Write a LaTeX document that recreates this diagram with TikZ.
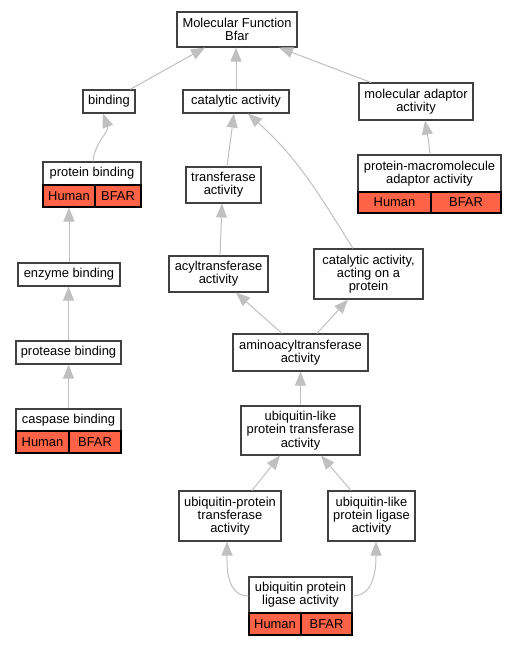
\documentclass[tikz,border=0pt]{standalone}
\usepackage{fontspec}
\setmainfont{Liberation Sans}
\usepackage{xcolor}
\usepackage{tikz}
\usetikzlibrary{arrows.meta}

\definecolor{tagred}{RGB}{255,99,71}
\definecolor{edgegray}{RGB}{192,192,192}
\newcommand{\gofont}{\fontsize{12.9}{13.3}\selectfont}

\tikzset{
  term/.style={draw=black!75, line width=1.1pt, fill=white, align=center, inner sep=0pt, font=\gofont},
  tag/.style={draw=black, line width=1.1pt, fill=tagred, inner sep=0pt, font=\gofont},
  isa/.style={draw=edgegray, line width=1pt, ->}
}

\begin{document}
\begin{tikzpicture}[x=1pt, y=-1pt, >={Triangle[length=14pt,width=11pt]}]
\useasboundingbox (0,0) rectangle (516,645);
%==================== Radice ==================
\node[term, minimum width=120, minimum height=35] (mf) at (237,29.5) {Molecular Function\\Bfar};
%==================== Livello 1 ==================
\node[term, minimum width=52, minimum height=23] (bind) at (109,101.5) {binding};
\node[term, minimum width=106, minimum height=23] (cat) at (236,101.5) {catalytic activity};
\node[term, minimum width=114, minimum height=37] (mad) at (416,101.5) {molecular adaptor\\activity};
%==================== Livello 2 ==================
\node[term, minimum width=98, minimum height=23] (pbind) at (92,173.5) {protein binding};
\node[tag, minimum width=52, minimum height=22] (pbindh) at (69,196) {Human};
\node[tag, minimum width=46, minimum height=22] (pbindg) at (118,196) {BFAR};
\node[term, minimum width=75, minimum height=36] (trans) at (223.5,185) {transferase\\activity};
\node[term, minimum width=143, minimum height=37] (pmaa) at (429.5,173.5) {protein-macromolecule\\adaptor activity};
\node[tag, minimum width=73, minimum height=21] (pmaah) at (394.5,202.5) {Human};
\node[tag, minimum width=70, minimum height=21] (pmaag) at (466,202.5) {BFAR};
%==================== Livello 3 ==================
\node[term, minimum width=102, minimum height=23] (enz) at (69,274.5) {enzyme binding};
\node[term, minimum width=99, minimum height=36] (acyl) at (218.5,274) {acyltransferase\\activity};
\node[term, minimum width=109, minimum height=50] (capr) at (368.5,274) {catalytic activity,\\acting on a\\protein};
%==================== Livello 4 ==================
\node[term, minimum width=105, minimum height=23] (prot) at (68.5,352.5) {protease binding};
\node[term, minimum width=135, minimum height=37] (amino) at (300.5,352.5) {aminoacyltransferase\\activity};
%==================== Livello 5 ==================
\node[term, minimum width=105, minimum height=22] (casp) at (68.5,420) {caspase binding};
\node[tag, minimum width=53, minimum height=22] (casph) at (42.5,442) {Human};
\node[tag, minimum width=52, minimum height=22] (caspg) at (95,442) {BFAR};
\node[term, minimum width=119, minimum height=49] (ubltr) at (300.5,430.5) {ubiquitin-like\\protein transferase\\activity};
%==================== Livello 6 ==================
\node[term, minimum width=102, minimum height=50] (ubptr) at (230,516) {ubiquitin-protein\\transferase\\activity};
\node[term, minimum width=87, minimum height=50] (ubllig) at (371.5,516) {ubiquitin-like\\protein ligase\\activity};
%==================== Livello 7 ==================
\node[term, minimum width=103, minimum height=36] (ubpl) at (300.5,595) {ubiquitin protein\\ligase activity};
\node[tag, minimum width=52, minimum height=22] (ubplh) at (275,624) {Human};
\node[tag, minimum width=51, minimum height=22] (ubplg) at (326.5,624) {BFAR};
%=================== Frecce =================================
\draw[isa] ([xshift=21]bind.north) -- ([xshift=-32]mf.south);
\draw[isa] (cat.north) -- (cat.north |- mf.south);
\draw[isa] ([xshift=-45]mad.north) -- ([xshift=42]mf.south);
\draw[isa] ([xshift=1]pbind.north) to[out=85, in=-70] ([xshift=-6]bind.south);
\draw[isa] ([xshift=3.5]trans.north) -- ([xshift=-2]cat.south);
\draw[isa] ([xshift=-15.5]capr.north) to[out=122, in=-42] ([xshift=12]cat.south);
\draw[isa] ([xshift=0.5]pmaa.north) to[out=95, in=-80] ([xshift=9]mad.south);
\draw[isa] (enz.north) -- (pbindh.south);
\draw[isa] ([xshift=1.5]acyl.north) -- ([xshift=-1.5]trans.south);
\draw[isa] (prot.north) -- (prot.north |- enz.south);
\draw[isa] ([xshift=-18.5]amino.north) -- ([xshift=17.5]acyl.south);
\draw[isa] ([xshift=16.5]amino.north) -- ([xshift=-20.5]capr.south);
\draw[isa] (ubltr.north) -- (amino.south);
\draw[isa] (casp.north) -- (prot.south);
\draw[isa] ([xshift=22]ubptr.north) -- ([xshift=-20.5]ubltr.south);
\draw[isa] ([xshift=-20.5]ubllig.north) -- ([xshift=20.5]ubltr.south);
\draw[isa] ([yshift=-1]ubpl.west) to[out=180, in=-90] ([xshift=-3]ubptr.south);
\draw[isa] ([yshift=-1]ubpl.east) to[out=0, in=-90] ([xshift=4.5]ubllig.south);
\end{tikzpicture}
\end{document}
